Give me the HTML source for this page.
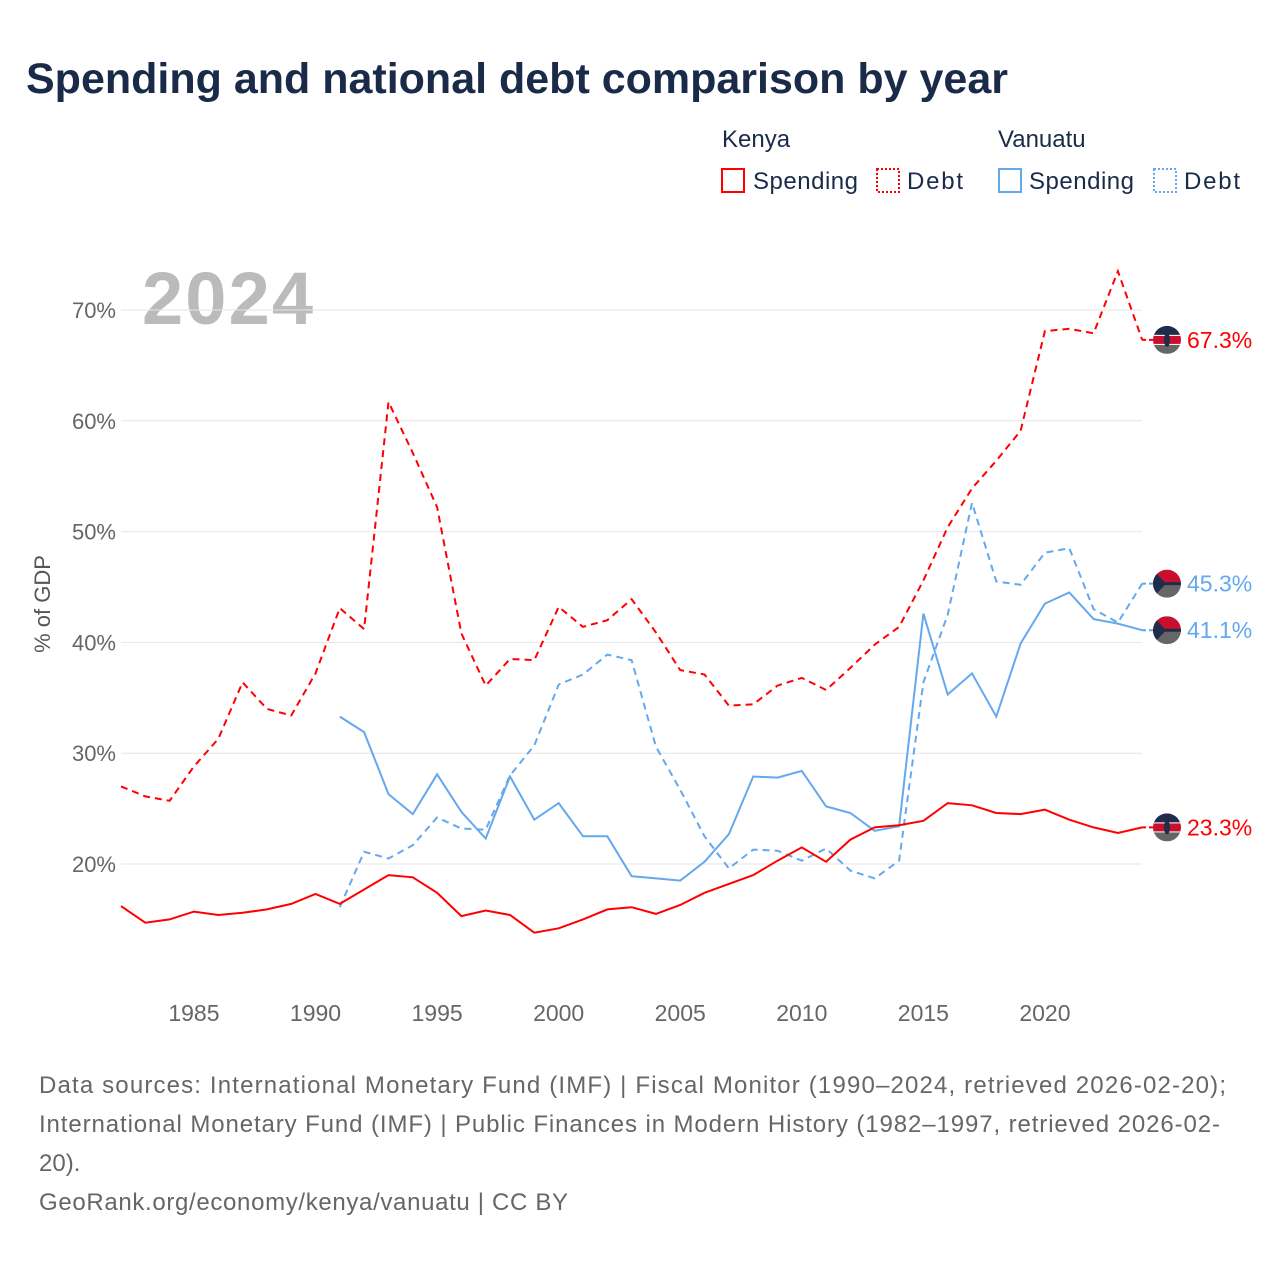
<!DOCTYPE html>
<html><head><meta charset="utf-8">
<style>
body{margin:0;background:#fff;font-family:"Liberation Sans",sans-serif;}
#wrap{position:relative;width:1280px;height:1280px;overflow:hidden;}
svg text{font-family:"Liberation Sans",sans-serif;}
</style></head>
<body>
<div id="wrap">
<svg id="chart" width="1280" height="1280">
<text x="26" y="93" font-size="43" font-weight="bold" fill="#1a2b4a">Spending and national debt comparison by year</text>
<g>
<text x="722" y="147" font-size="24" fill="#1a2b4a">Kenya</text>
<text x="998" y="147" font-size="24" fill="#1a2b4a">Vanuatu</text>
<g><rect x="722" y="169" width="22" height="23" fill="none" stroke="#ff0000" stroke-width="2"/><text x="753" y="189" font-size="24" fill="#1a2b4a" textLength="105">Spending</text></g>
<g><rect x="877" y="169" width="22" height="23" fill="none" stroke="#ff0000" stroke-width="2" stroke-dasharray="2,2"/><text x="907" y="189" font-size="24" fill="#1a2b4a" textLength="56">Debt</text></g>
<g><rect x="999" y="169" width="22" height="23" fill="none" stroke="#64a8ee" stroke-width="2"/><text x="1029" y="189" font-size="24" fill="#1a2b4a" textLength="105">Spending</text></g>
<g><rect x="1154" y="169" width="22" height="23" fill="none" stroke="#64a8ee" stroke-width="2" stroke-dasharray="2,2"/><text x="1184" y="189" font-size="24" fill="#1a2b4a" textLength="56">Debt</text></g>
</g>
<text x="142" y="324" font-size="74" font-weight="bold" fill="#bbbbbb" textLength="171">2024</text>
<text transform="translate(50,604) rotate(-90)" text-anchor="middle" font-size="22" fill="#555">% of GDP</text>
<g id="grid"></g><g id="xt"></g><g id="series"></g><g id="ends"></g>
<g font-size="24" fill="#666">
<text x="39" y="1093" textLength="1187">Data sources: International Monetary Fund (IMF) | Fiscal Monitor (1990–2024, retrieved 2026-02-20);</text>
<text x="39" y="1132" textLength="1181">International Monetary Fund (IMF) | Public Finances in Modern History (1982–1997, retrieved 2026-02-</text>
<text x="39" y="1171">20).</text>
<text x="39" y="1210" textLength="529">GeoRank.org/economy/kenya/vanuatu | CC BY</text>
</g>
</svg>
</div>
<script>
const yTicks=[20,30,40,50,60,70];
const xTicks=[1985,1990,1995,2000,2005,2010,2015,2020];
const kenyaYears=[];for(let y=1982;y<=2024;y++)kenyaYears.push(y);
const vanYears=[];for(let y=1991;y<=2024;y++)vanYears.push(y);
const kenyaSpending=[16.2,14.7,15.0,15.7,15.4,15.6,15.9,16.4,17.3,16.4,17.7,19.0,18.8,17.4,15.3,15.8,15.4,13.8,14.2,15.0,15.9,16.1,15.5,16.3,17.4,18.2,19.0,20.3,21.5,20.2,22.2,23.3,23.5,23.9,25.5,25.3,24.6,24.5,24.9,24.0,23.3,22.8,23.3];
const kenyaDebt=[27.0,26.1,25.7,28.8,31.3,36.4,34.0,33.4,37.2,43.1,41.2,61.7,57.1,52.2,40.8,36.1,38.5,38.4,43.2,41.4,42.0,43.9,40.9,37.5,37.1,34.3,34.4,36.1,36.8,35.7,37.7,39.8,41.4,45.6,50.4,53.9,56.4,59.1,68.1,68.3,67.9,73.5,67.3];
const vanSpending=[33.3,31.9,26.3,24.5,28.1,24.7,22.3,27.9,24.0,25.5,22.5,22.5,18.9,18.7,18.5,20.2,22.7,27.9,27.8,28.4,25.2,24.6,23.0,23.4,42.6,35.3,37.2,33.3,39.9,43.5,44.5,42.1,41.7,41.1];
const vanDebt=[16.1,21.1,20.5,21.7,24.2,23.2,23.1,28.0,30.7,36.2,37.1,38.9,38.4,30.6,26.7,22.5,19.6,21.3,21.2,20.3,21.4,19.4,18.7,20.3,36.4,42.5,52.6,45.5,45.2,48.1,48.5,43.0,41.8,45.3];
const NS="http://www.w3.org/2000/svg";
const X=y=>121+(y-1982)*(1045-194)/35;
const Y=v=>864-(v-20)*11.08;
function mk(t,a,p){const e=document.createElementNS(NS,t);for(const k in a)e.setAttribute(k,a[k]);p.appendChild(e);return e;}
const grid=document.getElementById('grid');
yTicks.forEach(v=>{
 const l=mk('line',{x1:121,x2:1142,y1:Y(v),y2:Y(v),stroke:'#e6e6e6','stroke-width':1},grid);
 
 
 const t=mk('text',{x:116,y:Y(v)+8,'text-anchor':'end','font-size':22,fill:'#666'},grid);t.textContent=v+'%';
 
 
});
const xt=document.getElementById('xt');
xTicks.forEach(v=>{
 const t=mk('text',{x:X(v),y:1021,'text-anchor':'middle','font-size':23,fill:'#666'},xt);t.textContent=v;
 
 
});
const S=document.getElementById('series');
function line(years,vals,color,dash,name){
 const d=vals.map((v,i)=>(i?'L':'M')+X(years[i]).toFixed(1)+','+Y(v).toFixed(1)).join('');
 const p=mk('path',{d:d,fill:'none',stroke:color,'stroke-width':2,'stroke-dasharray':dash?'7,5':'none'},S);
 
 
}
line(kenyaYears,kenyaDebt,'#ff0000',true,'kenya-debt-line');
line(vanYears,vanDebt,'#64a8ee',true,'vanuatu-debt-line');
line(vanYears,vanSpending,'#64a8ee',false,'vanuatu-spending-line');
line(kenyaYears,kenyaSpending,'#ff0000',false,'kenya-spending-line');
const E=document.getElementById('ends');
function end(v,color,flag,name){
 const y=Y(v);
 mk('line',{x1:1142,x2:1153,y1:y,y2:y,stroke:color,'stroke-width':2,'stroke-dasharray':'4,3'},E);
 const g=mk('g',{},E);
 
 
 const cid='c'+name;
 const cp=mk('clipPath',{id:cid},g);mk('circle',{cx:1167,cy:y,r:14},cp);
 const gg=mk('g',{'clip-path':'url(#'+cid+')'},g);
 if(flag==='ke'){
  mk('rect',{x:1153,y:y-14,width:28,height:9,fill:'#1f2d4a'},gg);
  mk('rect',{x:1153,y:y-5,width:28,height:10,fill:'#c8102e'},gg);
  mk('rect',{x:1153,y:y+5,width:28,height:9,fill:'#666'},gg);
  mk('rect',{x:1153,y:y-5,width:28,height:1,fill:'#fff'},gg);
  mk('rect',{x:1153,y:y+4,width:28,height:1,fill:'#fff'},gg);
  mk('ellipse',{cx:1167,cy:y,rx:3,ry:7,fill:'#1f2d4a'},gg);
 }else{
  mk('rect',{x:1153,y:y-14,width:28,height:14,fill:'#c8102e'},gg);
  mk('rect',{x:1153,y:y,width:28,height:14,fill:'#666'},gg);
  mk('rect',{x:1153,y:y-1.5,width:28,height:3,fill:'#1f2d4a'},gg);
  mk('polygon',{points:`1153,${y-14} 1166,${y} 1153,${y+14}`,fill:'#1f2d4a'},gg);
 }
 const t=mk('text',{x:1187,y:y+8,'font-size':23,fill:color},E);t.textContent=v.toFixed(1)+'%';
 
 
}
end(kenyaDebt[kenyaDebt.length-1],'#ff0000','ke','kenya-debt');
end(vanDebt[vanDebt.length-1],'#64a8ee','vu','vanuatu-debt');
end(vanSpending[vanSpending.length-1],'#64a8ee','vu','vanuatu-spending');
end(kenyaSpending[kenyaSpending.length-1],'#ff0000','ke','kenya-spending');
</script>
</body></html>
